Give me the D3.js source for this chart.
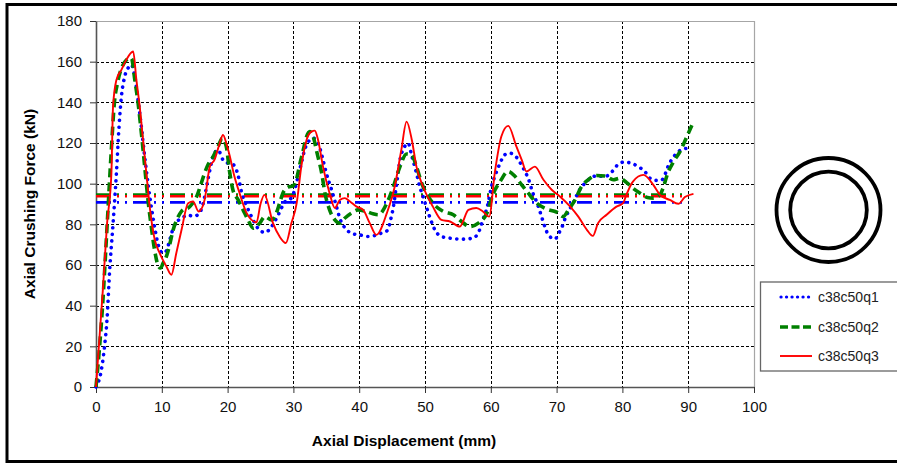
<!DOCTYPE html>
<html><head><meta charset="utf-8">
<script src="https://cdn.jsdelivr.net/npm/d3@7/dist/d3.min.js"></script>
<style>html,body{margin:0;padding:0;background:#fff;}svg{display:block;}</style>
</head><body>
<svg id="chart" width="897" height="463"></svg>
<script>
const xTicks = [0,10,20,30,40,50,60,70,80,90,100];
const yTicks = [0,20,40,60,80,100,120,140,160,180];
const seriesNames = ["c38c50q1","c38c50q2","c38c50q3"];
const meanValues = [90.8, 94.6, 93.8];

const q1 = [[0,0],[0.82,8.5],[1.3,20],[1.67,33],[2.08,57.6],[2.6,80.6],[3.1,105],[3.5,128],[3.86,142.8],[4.36,152.6],[5.02,157.5],[5.38,158.4],[5.9,152.6],[6.39,141.2],[6.9,128],[7.4,113.3],[7.9,100.2],[8.4,88.7],[8.9,78.9],[9.3,72],[9.7,67.5],[10.2,65.8],[10.7,67],[11.1,71],[11.5,75.7],[12,80],[13,83],[14,84.5],[14.75,84],[15.5,84.7],[16.3,90.4],[17,101.9],[17.8,113.3],[18.55,116.6],[19.3,111.7],[20.1,110],[20.8,109.5],[21.6,104],[22.1,96],[22.9,89],[23.6,84],[24.6,78.1],[25.65,76],[26.7,78.9],[27.7,84.7],[28.7,91],[29.7,93],[30.2,97],[30.7,103.5],[31.2,110],[31.7,116.6],[32.5,121.5],[33,122.4],[33.75,119.9],[34.5,111.7],[35,105.2],[35.8,97],[36.55,88.7],[37.05,83],[38.1,77.3],[39.1,75.3],[40.1,74.8],[41.35,74],[43.4,75.7],[44.4,77.3],[44.65,80.6],[45.2,88.7],[45.7,100.2],[46.2,111.7],[46.9,118.2],[47.45,119.9],[47.95,114.2],[48.7,105.2],[49.2,98.6],[49.7,93.7],[50.2,88.7],[50.7,83.8],[51.5,77.3],[52.5,74],[53.8,73.2],[55.55,72.7],[57.3,73.2],[58.3,77.3],[58.8,82.2],[59.6,90.4],[60.1,98.6],[60.6,103.5],[61.4,110],[62.1,114.2],[62.9,115],[63.9,113],[64.7,109],[65.2,106],[65.7,102.5],[66.4,95.3],[67,90.8],[67.6,85],[68.2,79],[68.8,74.5],[69.75,72.8],[70.4,76],[70.9,79.3],[71.3,83],[71.8,86.3],[72.5,90.4],[73.5,97],[74.3,100.2],[75.1,102.7],[76.1,103.8],[77.35,103.5],[78.4,105.8],[79.2,109],[80.2,110.6],[81.4,110],[82.5,108.2],[83.4,106],[84.2,102.7],[85.1,101.6],[86,101.9],[86.6,105.5],[87,109],[87.6,112.3],[88.4,115.5],[89.25,117],[90.4,117.6]];

const q2 = [[0,0],[1,40],[1.7,80],[2.3,115],[2.8,140],[3.3,150],[4.1,158.4],[4.62,160.8],[5.1,161.8],[5.4,161.5],[5.9,151],[6.4,139.5],[6.9,124.8],[7.4,108.4],[7.9,92],[8.4,78.9],[8.9,67.5],[9.4,60.1],[9.8,58.5],[10.2,60.9],[10.7,64.2],[11.2,70],[11.7,77],[12.5,83.8],[13.2,87.1],[14,88],[14.6,90],[15.3,93.7],[16,100.2],[16.5,105.2],[17,109.2],[17.8,113.3],[18.55,118.2],[19.2,122.4],[19.8,118.2],[20.3,106],[20.8,97],[21.6,92],[22.35,87.1],[23.1,82.2],[23.9,78.1],[24.9,80.6],[25.65,83.8],[26.7,82.2],[27.4,85.5],[27.9,90.4],[28.4,95.3],[29.2,98.3],[29.95,98.9],[30.5,102.7],[31,110],[31.5,116.6],[32,123.2],[32.5,125.6],[33,123.2],[33.6,115],[34.3,105.2],[34.8,95.3],[35.5,87.1],[36.3,82.2],[37.05,80.6],[37.8,83],[38.8,85.5],[39.8,87.1],[41.1,86.3],[42.1,85.2],[42.9,84.7],[44.2,90.4],[45.2,98.6],[46.2,108.4],[47.2,114.6],[47.95,114.2],[48.7,108.4],[49.5,100.2],[50.2,95.3],[51.2,90.4],[52.8,86.3],[54.3,84.7],[55.55,81.4],[56.8,78.9],[58.1,80.6],[59.4,85.5],[60.4,95.3],[61.4,101],[62.65,106],[63.7,103.5],[64.7,99.4],[65.7,95.3],[67,90.4],[68.5,87.5],[70,86],[71,83.8],[71.8,87.1],[72.8,92],[73.8,98.6],[74.8,101.9],[76.1,104],[77.35,103.8],[78.6,101.9],[79.6,102.7],[80.65,100.5],[81.6,97.8],[82.7,95.3],[83.8,93.2],[84.7,92.9],[85.7,94.5],[86.3,99],[86.8,104.3],[87.8,110.9],[88.75,115.8],[89.8,123.2],[90.8,130.5]];

const q3 = [[0,0],[1.06,48.6],[1.67,80],[2.34,105],[2.59,138],[3.1,151],[3.86,156],[4.62,161],[5.38,164.5],[5.65,165],[6.14,151],[6.64,138],[7.15,121.5],[7.66,105],[8.16,88.7],[8.93,72.4],[9.68,65.8],[10.7,59.3],[11.46,55.2],[12.2,65.8],[13,77.3],[14,90.4],[14.75,91.2],[15.6,86.3],[16.5,92],[17.3,108.4],[18,111.7],[18.8,119.9],[19.3,124],[19.8,119.9],[20.3,114],[21,104],[21.85,95],[22.9,85.5],[24.4,81],[25.0,90],[25.6,94.5],[26.9,80.6],[27.9,74],[28.85,70.8],[29.7,80.6],[30.5,90.4],[31.2,108.4],[32,121.5],[32.75,125.6],[33.25,126.1],[33.75,121.5],[34.5,108.4],[35.5,95.3],[36.3,88],[37.05,92],[37.8,92.9],[38.6,91.2],[39.6,88.7],[40.6,87.1],[41.6,80.6],[42.6,74.8],[44.2,85.5],[45.4,98.6],[46.4,116.6],[47.2,130.5],[48,121.5],[48.7,108.4],[49.7,98.6],[51.2,88.7],[52.5,82.2],[53.8,81.4],[55.3,78.9],[56.6,87.1],[57.8,88],[58.8,86.3],[59.75,83.8],[60.6,105.2],[61.6,123.2],[62.65,128.4],[63.9,118.2],[64.7,111.7],[65.4,106],[66.7,108.4],[68,101.9],[69.25,97],[70.5,93.7],[72,89],[73.3,83.8],[74.6,77.3],[75.5,74.3],[76.3,80.6],[77.6,84.7],[79.1,88.7],[80.1,90.4],[80.6,94.5],[81.6,101],[83.2,104.3],[84.7,99.4],[85.7,94.5],[87.2,92],[88.5,90.1],[89.5,93.4],[90.8,95]];

const colors = ["#0000ff","#008000","#ff0000"];
const meanEnd = 90;

const svg = d3.select("#chart");
const font = "'Liberation Sans', Arial, sans-serif";
const L = 96, R = 754, T = 21, B = 387;
const x = d3.scaleLinear().domain([0,100]).range([L,R]);
const y = d3.scaleLinear().domain([0,180]).range([B,T]);

// outer frame
svg.append("rect").attr("x",7).attr("y",4.5).attr("width",910).attr("height",457)
  .attr("fill","none").attr("stroke","#000").attr("stroke-width",3);

// grid
const g = svg.append("g");
g.selectAll(".hg").data(yTicks.filter(v=>v>0 && v<180)).enter().append("line")
  .attr("x1",L).attr("x2",R).attr("y1",d=>Math.round(y(d))+0.5).attr("y2",d=>Math.round(y(d))+0.5)
  .attr("stroke","#000").attr("stroke-width",1).attr("stroke-dasharray","3,2");
g.selectAll(".vg").data(xTicks.filter(v=>v>0 && v<100)).enter().append("line")
  .attr("y1",T).attr("y2",B).attr("x1",d=>Math.round(x(d))+0.5).attr("x2",d=>Math.round(x(d))+0.5)
  .attr("stroke","#000").attr("stroke-width",1).attr("stroke-dasharray","3,2");
// plot border top/right
svg.append("path").attr("d",`M${L},${T+0.5}H${R+0.5}V${B}`).attr("fill","none").attr("stroke","#a6a6a6").attr("stroke-width",1.2);

// axes
const xAxis = d3.axisBottom(x).tickValues(xTicks).tickSize(6).tickPadding(8).tickSizeOuter(0);
const yAxis = d3.axisLeft(y).tickValues(yTicks).tickSize(6).tickPadding(8).tickSizeOuter(0);
const gx = svg.append("g").attr("transform",`translate(0,${B})`).call(xAxis);
const gy = svg.append("g").attr("transform",`translate(${L},0)`).call(yAxis);
[gx,gy].forEach(a=>{
  a.select(".domain").attr("stroke","#555").attr("stroke-width",1.6);
  a.selectAll(".tick line").attr("stroke","#333").attr("stroke-width",1);
  a.selectAll("text").attr("font-family",font).attr("font-size",15).attr("fill","#111");
});

// mean lines
const meanDash = "15,6,2,6,2,6";
meanValues.forEach((v,i)=>{
  svg.append("line").attr("x1",x(0)).attr("x2",x(meanEnd)).attr("y1",y(v)).attr("y2",y(v))
    .attr("stroke",colors[i]).attr("stroke-width",2.6).attr("stroke-dasharray",meanDash);
});

// series
const line = d3.line().x(d=>x(d[0])).y(d=>y(d[1])).curve(d3.curveMonotoneX);
const styles = [
  {w:3.6, dash:"0.1,6.6", cap:"round"},
  {w:3.6, dash:"9,5", cap:"butt"},
  {w:1.9, dash:null, cap:"butt"}
];
[q1,q2,q3].forEach((data,i)=>{
  const p = svg.append("path").datum(data).attr("d",line).attr("fill","none")
    .attr("stroke",colors[i]).attr("stroke-width",styles[i].w).attr("stroke-linecap",styles[i].cap)
    .attr("stroke-linejoin","round");
  if(styles[i].dash) p.attr("stroke-dasharray",styles[i].dash);
});

// axis titles
svg.append("text").attr("x",404).attr("y",446).attr("text-anchor","middle")
  .attr("font-family",font).attr("font-size",15.5).attr("font-weight","bold").attr("fill","#000")
  .text("Axial Displacement (mm)");
svg.append("text").attr("transform",`translate(35,${(T+B)/2}) rotate(-90)`).attr("text-anchor","middle")
  .attr("font-family",font).attr("font-size",15.5).attr("font-weight","bold").attr("fill","#000")
  .text("Axial Crushing Force (kN)");

// ring section
svg.append("circle").attr("cx",828.5).attr("cy",210).attr("r",52).attr("fill","none").attr("stroke","#000").attr("stroke-width",3.8);
svg.append("circle").attr("cx",828.5).attr("cy",210).attr("r",38.3).attr("fill","none").attr("stroke","#000").attr("stroke-width",3.8);

// legend
svg.append("rect").attr("x",760.5).attr("y",282).attr("width",160).attr("height",89)
  .attr("fill","#fff").attr("stroke","#666").attr("stroke-width",1.3);
const ly = [297,327,356];
seriesNames.forEach((n,i)=>{
  const s = svg.append("line").attr("x1",i===0?781:780).attr("x2",812).attr("y1",ly[i]).attr("y2",ly[i])
    .attr("stroke",colors[i]).attr("stroke-width",i===0?3.2:styles[i].w).attr("stroke-linecap",styles[i].cap);
  if(styles[i].dash) s.attr("stroke-dasharray", i===0?"0.1,5.4":"8,3.5");
  svg.append("text").attr("x",818).attr("y",ly[i]+5).attr("font-family",font).attr("font-size",14)
    .attr("fill","#222").text(n);
});
</script>
</body></html>
